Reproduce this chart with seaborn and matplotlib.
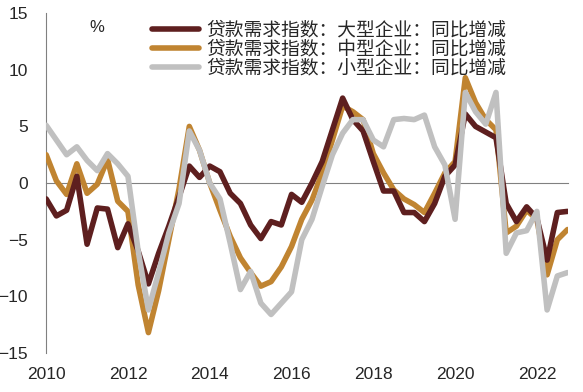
import numpy as np
import pandas as pd
import seaborn as sns
import matplotlib.pyplot as plt

# quarterly, 2010Q1 .. 2022Q4
large = [-1.4, -2.9, -2.4, 0.6, -5.4, -2.2, -2.3, -5.7, -3.6, -6.0,
         -8.9, -6.2, -3.8, -1.2, 1.5, 0.5, 1.5, 1.0, -0.9, -1.8,
         -3.7, -4.9, -3.4, -3.7, -1.0, -1.7, 0.0, 1.9, 4.7, 7.5,
         5.6, 4.6, 1.9, -0.7, -0.7, -2.6, -2.6, -3.4, -1.8, 0.6,
         1.6, 6.1, 5.0, 4.5, 4.0, -1.8, -3.4, -2.1, -3.1, -6.8,
         -2.6, -2.5]
medium = [2.5, 0.2, -1.0, 1.7, -0.9, -0.1, 2.1, -1.6, -2.5, -9.0,
          -13.2, -9.5, -5.0, -0.5, 5.0, 2.9, 0.0, -2.4, -4.7, -6.6,
          -7.9, -9.1, -8.7, -7.4, -5.6, -3.2, -1.5, 0.9, 3.8, 6.8,
          6.3, 5.6, 2.6, 0.9, -0.6, -1.4, -1.9, -2.6, -0.9, 0.9,
          1.9, 9.3, 7.1, 5.6, 4.7, -4.4, -3.8, -2.4, -3.2, -8.1,
          -5.0, -4.1]
small = [5.1, 3.8, 2.5, 3.2, 2.0, 1.1, 2.6, 1.7, 0.6, -6.0,
         -11.2, -7.9, -4.4, -1.8, 4.6, 2.9, 0.0, -1.4, -5.3, -9.4,
         -7.8, -10.6, -11.6, -10.6, -9.6, -5.0, -3.2, -0.3, 2.5, 4.4,
         5.6, 5.6, 3.8, 3.2, 5.6, 5.7, 5.6, 6.0, 3.2, 1.6,
         -3.2, 8.0, 6.3, 5.2, 8.0, -6.2, -4.4, -4.2, -2.5, -11.2,
         -8.2, -7.9]
labels = ["贷款需求指数：大型企业：同比增减",
          "贷款需求指数：中型企业：同比增减",
          "贷款需求指数：小型企业：同比增减"]
colors = ["#5e1f1f", "#c08431", "#c0c0c0"]
years = [2010, 2012, 2014, 2016, 2018, 2020, 2022]

t = 2010 + np.arange(len(large)) / 4
df = pd.DataFrame({"t": t, labels[0]: large, labels[1]: medium, labels[2]: small})

sns.set_style("white")
plt.rcParams["font.family"] = ["Liberation Sans", "DejaVu Sans"]

fig = plt.figure(figsize=(5.83, 3.92), dpi=100)
ax = fig.add_axes([0.0792, 0.0995, 0.895, 0.867])

order = [1, 0, 2]  # draw orange first, gray on top
for i in order:
    sns.lineplot(x="t", y=labels[i], data=df, ax=ax, color=colors[i],
                 linewidth=4, label=labels[i], zorder=3 + order.index(i))

ax.set_xlim(2010, 2022.76)
ax.set_ylim(-15, 15)
ax.set_yticks([-15, -10, -5, 0, 5, 10, 15])
ax.set_xticks(years[1:])
ax.set_xlabel("")
ax.set_ylabel("")

for s in ["top", "right"]:
    ax.spines[s].set_visible(False)
ax.spines["left"].set_color("#808080")
ax.spines["bottom"].set_color("#808080")
ax.spines["bottom"].set_position(("data", 0))
ax.tick_params(axis="y", direction="in", length=4.5, color="#808080",
               labelsize=12.5, pad=13)
ax.tick_params(axis="x", direction="in", length=3.5, color="#808080",
               labelbottom=False)

sec = ax.secondary_xaxis(0.0)
sec.set_xticks(years)
sec.spines["bottom"].set_visible(False)
sec.tick_params(length=0, labelsize=12.5, pad=10)

ax.text(2011.24, 13.7, "%", fontsize=12, ha="center", va="center")

h, l = ax.get_legend_handles_labels()
idx = [l.index(x) for x in labels]
leg = ax.legend([h[i] for i in idx], [l[i] for i in idx], loc="upper left",
                bbox_to_anchor=(152 / 583, 1 - 19.5 / 392),
                bbox_transform=fig.transFigure, frameon=False,
                handlelength=2.5, handletextpad=0.4, labelspacing=-0.1,
                borderpad=0, borderaxespad=0,
                prop={"family": ["Noto Sans CJK SC", "DejaVu Sans"], "size": 13.5})

fig.savefig("out.png", dpi=100)
